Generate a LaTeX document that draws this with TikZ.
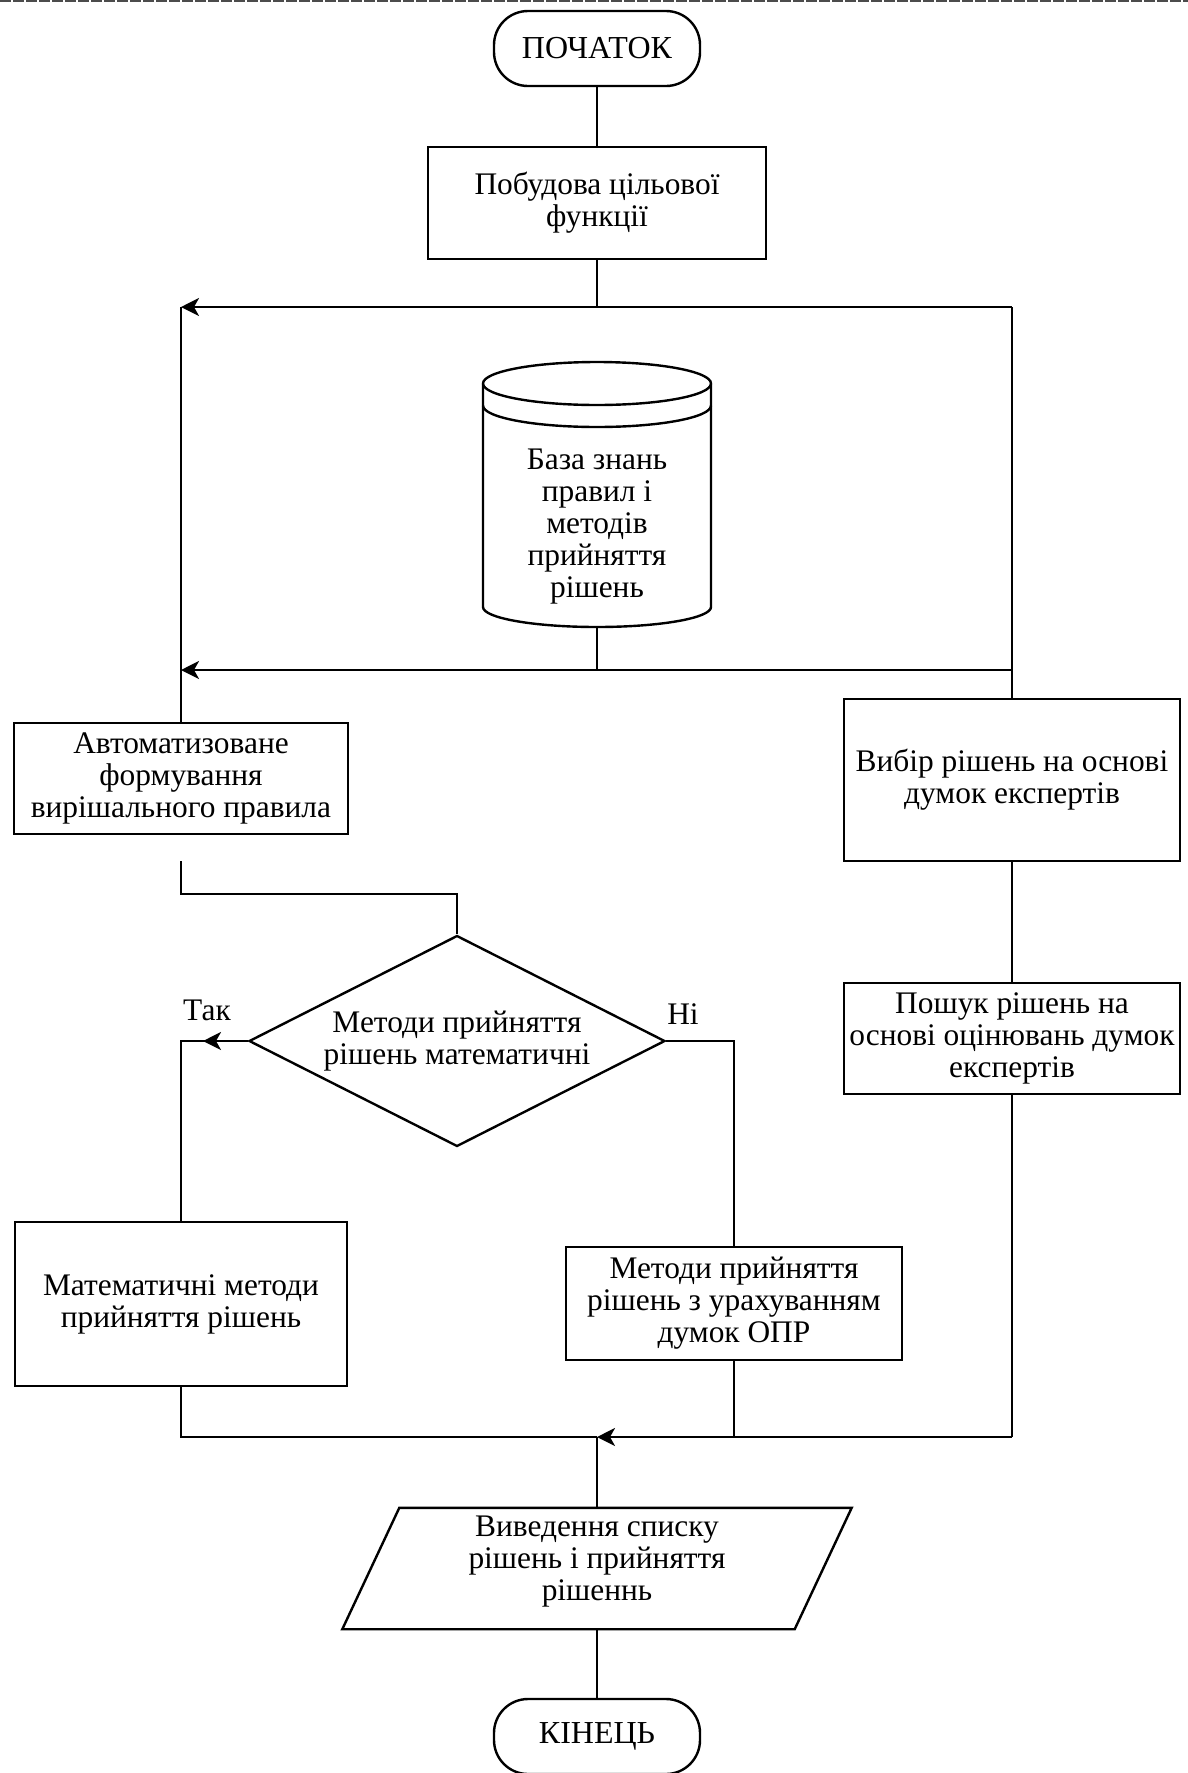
\documentclass[tikz,border=0pt]{standalone}
\usepackage{fontspec}
\setmainfont{Liberation Serif}
\usetikzlibrary{arrows.meta,shapes.geometric,calc}

\begin{document}
\begin{tikzpicture}[x=0.5pt,y=-0.5pt,
  line width=1.2pt,
  every node/.style={font=\fontsize{15.7pt}{16pt}\selectfont, align=center},
  box/.style={draw, rectangle, inner sep=0pt},
  term/.style={draw, rectangle, rounded corners=17pt, minimum width=103pt,
    minimum height=37.5pt, inner sep=0pt, font=\fontsize{16pt}{18pt}\selectfont},
  arr/.style={-{Stealth[length=9pt,width=9pt,inset=2.5pt]}},
]
\useasboundingbox (0,0) rectangle (1188,1773);

% page edge rule
\draw[line width=0.8pt, gray!60!black, dash pattern=on 5.5pt off 1pt] (0,0.8) -- (1188,0.8);

% ---- blocks ----
\node[term] (start) at (597,48.5) {ПОЧАТОК};
\node[box, minimum width=169pt, minimum height=56pt] (goal) at (597,203) {Побудова цільової\\функції};

% knowledge base (cylinder)
\draw (483,383.5) -- (483,607) arc[start angle=180,end angle=360,x radius=57pt,y radius=10pt] -- (711,383.5);
\draw (597,383.5) ellipse[x radius=57pt,y radius=10.75pt];
\draw (483,405.5) arc[start angle=180,end angle=360,x radius=57pt,y radius=10.75pt];
\node (kb) at (597,527) {База знань\\правил і\\методів\\прийняття\\рішень};
\coordinate (kbb) at (597,627);

\node[box, minimum width=167pt, minimum height=55.5pt] (auto) at (181,778.5) {Автоматизоване\\формування\\вирішального правила};
\node[box, minimum width=168pt, minimum height=81pt] (expert) at (1012,780) {Вибір рішень на основі\\думок експертів};
\node[box, minimum width=168pt, minimum height=55.5pt] (search) at (1012,1038.5) {Пошук рішень на\\основі оцінювань думок\\експертів};

\node[draw, diamond, aspect=1.97, inner sep=0pt, minimum width=208pt, minimum height=105.5pt] (dec) at (457,1041) {};
\node (dectext) at (dec.center) {Методи прийняття\\рішень математичні};
\node (yeslbl) at (207,1010) {Так};
\node (nolbl) at (683,1014) {Ні};

\node[box, minimum width=166pt, minimum height=82pt] (math) at (181,1304) {Математичні методи\\прийняття рішень};
\node[box, minimum width=168pt, minimum height=56.5pt] (opr) at (734,1303.5) {Методи прийняття\\рішень з урахуванням\\думок ОПР};

% output (parallelogram)
\node[minimum width=225pt, minimum height=59.5pt, inner sep=0pt] (out) at (597,1568.5) {};
\draw ($(out.north west)+(28.5,0)$) -- ($(out.north east)+(28.5,0)$)
   -- ($(out.south east)+(-28.5,0)$) -- ($(out.south west)+(-28.5,0)$) -- cycle;
\node (outtext) at (597,1562) {Виведення списку\\рішень і прийняття\\рішеннь};

\node[term] (finish) at (597,1736.5) {КІНЕЦЬ};

% ---- junction points ----
\coordinate (jt) at (597,307);
\coordinate (tl) at (181,307);
\coordinate (tr) at (1012,307);
\coordinate (jm) at (597,670);
\coordinate (ml) at (181,670);
\coordinate (mr) at (1012,670);
\coordinate (da) at (181,861);
\coordinate (db) at (181,894);
\coordinate (yestip) at (203,1041);
\coordinate (jb) at (597,1437);
\coordinate (bl) at (181,1437);
\coordinate (br) at (1012,1437);

% ---- connectors ----
\draw (start.south) -- (goal.north);
\draw (goal.south) -- (jt);
\draw[arr] (jt) -- (tl);
\draw (jt) -- (tr);
\draw (tl) -- (auto.north);
\draw (tr) -- (expert.north);
\draw (kbb) -- (jm);
\draw[arr] (mr) -- (ml);

\draw (da) -- (db) -| (dec.north);
\draw (dec.west) -| (math.north);
\draw[arr] (dec.west) -- (yestip);
\draw (dec.east) -| (opr.north);

\draw (expert.south) -- (search.north);
\draw (search.south) -- (br);
\draw[arr] (br) -- (jb);
\draw (math.south) -- (bl) -- (jb);
\draw (opr.south) -- (opr.south |- jb);
\draw (jb) -- (out.north);
\draw (out.south) -- (finish.north);
\end{tikzpicture}
\end{document}
